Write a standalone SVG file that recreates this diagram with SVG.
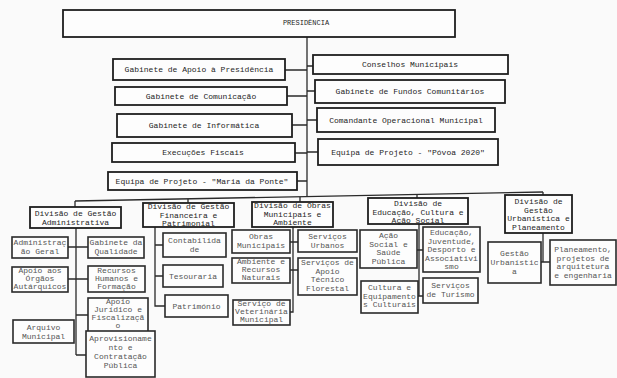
<svg xmlns="http://www.w3.org/2000/svg" width="617" height="378" viewBox="0 0 617 378">
<style>
.bg{fill:#fafafa}
.b{fill:#fdfdfd;stroke:#1e1e1e;stroke-width:1.8}
.s{fill:#fdfdfd;stroke:#2a2a2a;stroke-width:1.6}
.t{font-family:"Liberation Mono","DejaVu Sans Mono",monospace;font-size:8px;fill:#1e1e1e;text-anchor:middle}
.u{font-family:"Liberation Mono","DejaVu Sans Mono",monospace;font-size:8px;fill:#555;text-anchor:middle}
.c{fill:none;stroke:#2a2a2a;stroke-width:1.3}
</style>
<rect class="bg" x="0" y="0" width="617" height="378"/>
<g id="connectors">
<path class="c" d="M307 37V197"/>
<path class="c" d="M285 70H307M287 96H307M292 125H307M295 153H307M297 181H307"/>
<path class="c" d="M307 66H313M307 91H315M307 120H317M307 152H318"/>
<path class="c" d="M75 201L543 192"/>
<path class="c" d="M75 201V207M188 199V203M300 197V202M417 194.5V198M543 192V195"/>
<path class="c" d="M76 228V355M68 247H88M68 279H88M76 315H88M76 355H86"/>
<path class="c" d="M155 227V306H165M155 245H163M155 276H163"/>
<path class="c" d="M293 227V312H290M290 242H298M290 270H298"/>
<path class="c" d="M419 224V296M417 250H423M418 296H423"/>
<path class="c" d="M543 233V262M541 262H550"/>
</g>
<g id="presidencia"><rect class="b" x="63" y="10" width="392" height="27"/><text class="t" x="306" y="25" style="font-size:7px">PRESIDÊNCIA</text></g>
<g id="gab-apoio"><rect class="b" x="113" y="59" width="172" height="21"/><text class="t" x="199" y="72">Gabinete de Apoio à Presidência</text></g>
<g id="gab-comunicacao"><rect class="b" x="115" y="87" width="172" height="18"/><text class="t" x="201" y="99">Gabinete de Comunicação</text></g>
<g id="gab-informatica"><rect class="b" x="117" y="114" width="175" height="23"/><text class="t" x="204" y="128">Gabinete de Informática</text></g>
<g id="execucoes"><rect class="b" x="112" y="143" width="183" height="19"/><text class="t" x="203" y="155">Execuções Fiscais</text></g>
<g id="maria-ponte"><rect class="b" x="108" y="172" width="189" height="18"/><text class="t" x="202" y="184">Equipa de Projeto - "Maria da Ponte"</text></g>
<g id="conselhos"><rect class="b" x="313" y="55" width="195" height="19"/><text class="t" x="410" y="67">Conselhos Municipais</text></g>
<g id="fundos"><rect class="b" x="315" y="80" width="190" height="23"/><text class="t" x="410" y="94">Gabinete de Fundos Comunitários</text></g>
<g id="comandante"><rect class="b" x="317" y="108" width="178" height="24"/><text class="t" x="406" y="123">Comandante Operacional Municipal</text></g>
<g id="povoa"><rect class="b" x="318" y="139" width="180" height="26"/><text class="t" x="408" y="155">Equipa de Projeto - "Póvoa 2020"</text></g>
<g id="div-adm"><rect class="b" x="30" y="207" width="91" height="21"/><text class="t" x="75.5" y="216">Divisão de Gestão<tspan x="75.5" dy="9">Administrativa</tspan></text></g>
<g id="div-fin"><rect class="b" x="143" y="203" width="91" height="24"/><text class="t" x="188.5" y="209">Divisão de Gestão<tspan x="188.5" dy="8.5">Financeira e</tspan><tspan x="188.5" dy="8.5">Patrimonial</tspan></text></g>
<g id="div-obras"><rect class="b" x="252" y="202" width="81" height="25"/><text class="t" x="292.5" y="208">Divisão de Obras<tspan x="292.5" dy="8.5">Municipais e</tspan><tspan x="292.5" dy="8.5">Ambiente</tspan></text></g>
<g id="div-educ"><rect class="b" x="368" y="198" width="100" height="26"/><text class="t" x="418" y="206">Divisão de<tspan x="418" dy="8.5">Educação, Cultura e</tspan><tspan x="418" dy="8.5">Ação Social</tspan></text></g>
<g id="div-urb"><rect class="b" x="505" y="195" width="67" height="38"/><text class="t" x="538.5" y="204">Divisão de<tspan x="538.5" dy="8.5">Gestão</tspan><tspan x="538.5" dy="8.5">Urbanística e</tspan><tspan x="538.5" dy="8.5">Planeamento</tspan></text></g>
<g id="adm-geral"><rect class="s" x="12" y="237" width="56" height="21"/><text class="u" x="40" y="245">Administraç<tspan x="40" dy="9">ão Geral</tspan></text></g>
<g id="apoio-orgaos"><rect class="s" x="12" y="267" width="56" height="25"/><text class="u" x="40" y="273">Apoio aos<tspan x="40" dy="8">Órgãos</tspan><tspan x="40" dy="8">Autárquicos</tspan></text></g>
<g id="arquivo"><rect class="s" x="13" y="320" width="61" height="23"/><text class="u" x="43.5" y="330">Arquivo<tspan x="43.5" dy="8.5">Municipal</tspan></text></g>
<g id="gab-qualidade"><rect class="s" x="88" y="237" width="56" height="21"/><text class="u" x="116" y="245">Gabinete da<tspan x="116" dy="9">Qualidade</tspan></text></g>
<g id="rh"><rect class="s" x="88" y="266" width="57" height="26"/><text class="u" x="116.5" y="273">Recursos<tspan x="116.5" dy="8">Humanos e</tspan><tspan x="116.5" dy="8">Formação</tspan></text></g>
<g id="apoio-juridico"><rect class="s" x="88" y="298" width="60" height="34"/><text class="u" x="118" y="304">Apoio<tspan x="118" dy="8">Jurídico e</tspan><tspan x="118" dy="8">Fiscalizaçã</tspan><tspan x="118" dy="8">o</tspan></text></g>
<g id="aprovisionamento"><rect class="s" x="86" y="331" width="69" height="46"/><text class="u" x="120.5" y="341">Aprovisioname<tspan x="120.5" dy="9">nto e</tspan><tspan x="120.5" dy="9">Contratação</tspan><tspan x="120.5" dy="9">Pública</tspan></text></g>
<g id="contabilidade"><rect class="s" x="163" y="233" width="63" height="24"/><text class="u" x="194.5" y="243">Contabilida<tspan x="194.5" dy="9">de</tspan></text></g>
<g id="tesouraria"><rect class="s" x="163" y="265" width="60" height="22"/><text class="u" x="193" y="279">Tesouraria</text></g>
<g id="patrimonio"><rect class="s" x="165" y="295" width="63" height="22"/><text class="u" x="196.5" y="309">Património</text></g>
<g id="obras-mun"><rect class="s" x="232" y="230" width="58" height="23"/><text class="u" x="261" y="239">Obras<tspan x="261" dy="9">Municipais</tspan></text></g>
<g id="ambiente"><rect class="s" x="232" y="258" width="58" height="25"/><text class="u" x="261" y="264">Ambiente e<tspan x="261" dy="8">Recursos</tspan><tspan x="261" dy="8">Naturais</tspan></text></g>
<g id="veterinaria"><rect class="s" x="233" y="300" width="57" height="25"/><text class="u" x="261.5" y="306">Serviço de<tspan x="261.5" dy="8">Veterinária</tspan><tspan x="261.5" dy="8">Municipal</tspan></text></g>
<g id="serv-urbanos"><rect class="s" x="298" y="230" width="59" height="22"/><text class="u" x="327.5" y="239">Serviços<tspan x="327.5" dy="9">Urbanos</tspan></text></g>
<g id="apoio-florestal"><rect class="s" x="298" y="258" width="59" height="37"/><text class="u" x="327.5" y="265">Serviços de<tspan x="327.5" dy="8.5">Apoio</tspan><tspan x="327.5" dy="8.5">Técnico</tspan><tspan x="327.5" dy="8.5">Florestal</tspan></text></g>
<g id="acao-social"><rect class="s" x="360" y="230" width="57" height="38"/><text class="u" x="388.5" y="238">Ação<tspan x="388.5" dy="8.5">Social e</tspan><tspan x="388.5" dy="8.5">Saúde</tspan><tspan x="388.5" dy="8.5">Pública</tspan></text></g>
<g id="cultura"><rect class="s" x="361" y="281" width="57" height="32"/><text class="u" x="389.5" y="290">Cultura e<tspan x="389.5" dy="8.5">Equipamento</tspan><tspan x="389.5" dy="8.5">s Culturais</tspan></text></g>
<g id="educacao"><rect class="s" x="423" y="227" width="57" height="45"/><text class="u" x="451.5" y="235">Educação,<tspan x="451.5" dy="8.5">Juventude,</tspan><tspan x="451.5" dy="8.5">Desporto e</tspan><tspan x="451.5" dy="8.5">Associativi</tspan><tspan x="451.5" dy="8.5">smo</tspan></text></g>
<g id="turismo"><rect class="s" x="423" y="278" width="55" height="25"/><text class="u" x="450.5" y="288">Serviços<tspan x="450.5" dy="9">de Turismo</tspan></text></g>
<g id="gestao-urb"><rect class="s" x="488" y="242" width="53" height="41"/><text class="u" x="514.5" y="256">Gestão<tspan x="514.5" dy="9">Urbanístic</tspan><tspan x="514.5" dy="9">a</tspan></text></g>
<g id="planeamento"><rect class="s" x="550" y="240" width="66" height="45"/><text class="u" x="583" y="252">Planeamento,<tspan x="583" dy="8.5">projetos de</tspan><tspan x="583" dy="8.5">arquitetura</tspan><tspan x="583" dy="8.5">e engenharia</tspan></text></g>
</svg>
